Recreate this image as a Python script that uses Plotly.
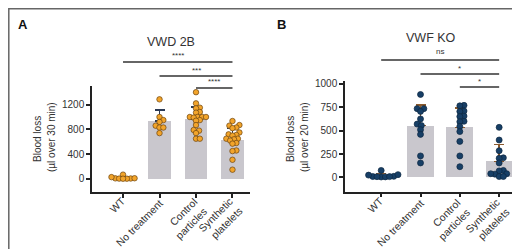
import plotly.graph_objects as go

W, H = 520, 249

categories = ["WT", "No treatment", "Control<br>particles", "Synthetic<br>platelets"]

# Panel A (VWD 2B), blood loss µl over 30 min
a_wt = [8, 5, 10, 6, 70, 30, 12, 4]
a_notx = [1285, 1000, 950, 920, 860, 830, 740, 830]
a_ctrl = [1400, 1220, 1150, 1140, 1080, 1070, 1000, 1000, 1000, 990, 1000, 950, 940, 870, 790, 780, 740, 650, 650]
a_synth = [935, 870, 860, 830, 820, 750, 720, 710, 700, 650, 640, 650, 620, 580, 570, 460, 450, 310, 150]
a_means = [20, 934, 960, 625]
a_sd = [20, 180, 200, 190]
a_ticks = [0, 400, 800, 1200]

# Panel B (VWF KO), blood loss µl over 20 min
b_wt = [10, 5, 12, 8, 75, 30, 6, 25, 9]
b_notx = [886, 735, 735, 705, 625, 570, 555, 510, 460, 230, 155]
b_ctrl = [770, 765, 710, 705, 655, 650, 600, 595, 545, 490, 385, 230, 115]
b_synth = [535, 400, 285, 210, 205, 155, 75, 70, 40, 35, 40, 10, 10]
b_means = [20, 554, 536, 172]
b_sd = [20, 222, 207, 178]
b_ticks = [0, 250, 500, 750, 1000]


def px(x):
    return x / W


def py(y):
    return 1 - y / H


def swarm(vals, center, xpx, ypx, d):
    order = sorted(range(len(vals)), key=lambda i: vals[i])
    placed = []
    xs = [0.0] * len(vals)
    cands = [0.0]
    for k in range(1, 60):
        cands += [k * d * 0.2, -k * d * 0.2]
    for i in order:
        yy = vals[i] * ypx
        for c in cands:
            ok = True
            for (cx, cy) in placed:
                if (cx - c) ** 2 + (cy - yy) ** 2 < d * d * 0.999:
                    ok = False
                    break
            if ok:
                placed.append((c, yy))
                xs[i] = center + c / xpx
                break
    return xs


fig = go.Figure()

panels = [
    dict(groups=[a_wt, a_notx, a_ctrl, a_synth], means=a_means, sd=a_sd, xa="x", ya="y",
         xpx=36.5, ypx=24.7 / 400, color="#F2A42A", line="#6b4310", ebar="#2b3a55",
         size=5.5, width=0.63),
    dict(groups=[b_wt, b_notx, b_ctrl, b_synth], means=b_means, sd=b_sd, xa="x2", ya="y2",
         xpx=39.3, ypx=23.3 / 250, color="#173f66", line="#0d2640", ebar="#8a5a2e",
         size=6, width=0.68),
]

for p in panels:
    fig.add_trace(go.Bar(
        x=[0, 1, 2, 3], y=p["means"], width=p["width"], xaxis=p["xa"], yaxis=p["ya"],
        marker=dict(color="#c9c7cd", line=dict(width=0)),
        error_y=dict(type="data", symmetric=False, array=p["sd"], arrayminus=[0] * 4,
                     color=p["ebar"], thickness=1.5, width=5),
        showlegend=False, hoverinfo="skip"))
    for gi, g in enumerate(p["groups"]):
        xs = swarm(g, gi, p["xpx"], p["ypx"], p["size"] * 0.7)
        fig.add_trace(go.Scatter(
            x=xs, y=g, mode="markers", xaxis=p["xa"], yaxis=p["ya"],
            marker=dict(color=p["color"], size=p["size"], line=dict(color=p["line"], width=0.7)),
            showlegend=False, hoverinfo="skip"))

axfont = dict(family="Liberation Sans, Arial, sans-serif", size=10, color="#333333")
common_x = dict(tickvals=[0, 1, 2, 3], showticklabels=False, showline=True,
                linecolor="#222222", linewidth=1.5, ticks="outside", ticklen=4, tickwidth=1.5,
                tickcolor="#222222", showgrid=False, zeroline=False,
                automargin=False, fixedrange=True)
common_y = dict(showline=True, linecolor="#222222", linewidth=1.5, ticks="outside", ticklen=4,
                tickwidth=1.5, tickcolor="#222222", tickfont=axfont, showgrid=False,
                zeroline=False, automargin=False, fixedrange=True)

fig.update_layout(
    width=W, height=H, margin=dict(l=0, r=0, t=0, b=0),
    template="none", paper_bgcolor="white", plot_bgcolor="white",
    bargap=0,
    xaxis=dict(domain=[px(84), px(242)], range=[-0.85, 3.48], anchor="y", **common_x),
    yaxis=dict(domain=[py(184), py(78)], range=[-210, 1500], anchor="x", tickvals=a_ticks, **common_y),
    xaxis2=dict(domain=[px(337), px(512)], range=[-0.92, 3.53], anchor="y2", **common_x),
    yaxis2=dict(domain=[py(183.5), py(73)], range=[-150, 1030], anchor="x2", tickvals=b_ticks, **common_y),
)

shapes = []
annots = []
# frame
shapes.append(dict(type="rect", xref="paper", yref="paper", x0=px(0.8), x1=px(518), y0=py(247.5), y1=py(0.8),
                   line=dict(color="#666666", width=1.5)))

tfont = dict(family="Liberation Sans, Arial, sans-serif", color="#333333")

# rotated category labels (centres in pixels)
label_pos = [
    [(109, 197), (131, 215), (178, 211), (212, 212)],
    [(367, 197), (392, 215), (441, 212), (479, 213)],
]
for centres in label_pos:
    for txt, (cx, cy) in zip(categories, centres):
        annots.append(dict(xref="paper", yref="paper", x=px(cx), y=py(cy), text=txt, showarrow=False,
                           textangle=-45, align="right", font=dict(size=10.5, **tfont),
                           xanchor="center", yanchor="middle"))

# significance brackets (x in category units, y in pixels)
sig = [
    ("x", 0, 3, 54, "****", 48),
    ("x", 1, 3, 68, "***", 62),
    ("x", 2, 3, 80, "****", 74),
    ("x2", 0, 3, 52, "ns", 43),
    ("x2", 1, 3, 66, "*", 60),
    ("x2", 2, 3, 79, "*", 73),
]
for xr, a, b, yl, txt, yt in sig:
    shapes.append(dict(type="line", xref=xr, yref="paper", x0=a, x1=b, y0=py(yl), y1=py(yl),
                       line=dict(color="#333333", width=1.4)))
    annots.append(dict(xref=xr, yref="paper", x=(a + b) / 2, y=py(yt), text=txt, showarrow=False,
                       font=dict(size=8, **tfont), xanchor="center", yanchor="middle"))

# titles
annots.append(dict(xref="paper", yref="paper", x=px(163), y=py(34), text="VWD 2B", showarrow=False,
                   font=dict(size=12.5, **tfont), xanchor="center", yanchor="middle"))
annots.append(dict(xref="paper", yref="paper", x=px(423), y=py(30), text="VWF KO", showarrow=False,
                   font=dict(size=12.5, **tfont), xanchor="center", yanchor="middle"))
annots.append(dict(xref="paper", yref="paper", x=px(8), y=py(16), text="<b>A</b>", showarrow=False,
                   font=dict(size=13, family="Liberation Sans, Arial, sans-serif", color="#111111"),
                   xanchor="left", yanchor="middle"))
annots.append(dict(xref="paper", yref="paper", x=px(267), y=py(16), text="<b>B</b>", showarrow=False,
                   font=dict(size=13, family="Liberation Sans, Arial, sans-serif", color="#111111"),
                   xanchor="left", yanchor="middle"))

# y-axis titles
for x1, x2, txt2 in [(29, 43, "(µl over 30 min)"), (282, 296, "(µl over 20 min)")]:
    annots.append(dict(xref="paper", yref="paper", x=px(x1), y=py(131), text="Blood loss", showarrow=False,
                       textangle=-90, font=dict(size=10, **tfont), xanchor="center", yanchor="middle"))
    annots.append(dict(xref="paper", yref="paper", x=px(x2), y=py(129), text=txt2, showarrow=False,
                       textangle=-90, font=dict(size=10, **tfont), xanchor="center", yanchor="middle"))

fig.update_layout(shapes=shapes, annotations=annots)

fig.write_html("out.html", config={"displayModeBar": False})
